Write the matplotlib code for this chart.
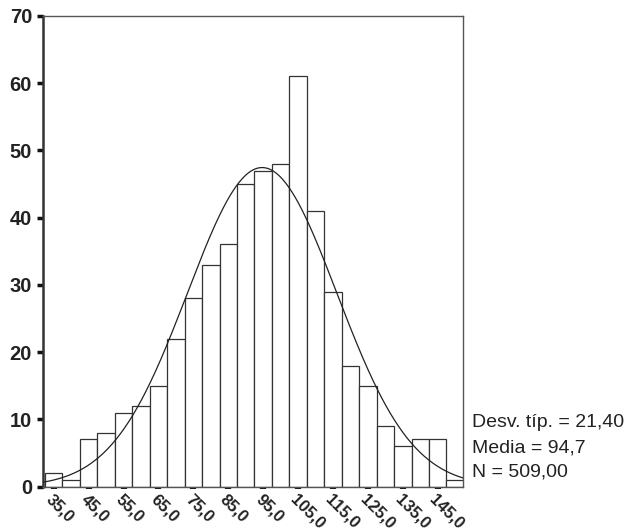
import numpy as np
import matplotlib.pyplot as plt

plt.rcParams['font.family'] = ['Liberation Sans', 'DejaVu Sans']

BIN_W = 5.0
centers = [35, 40, 45, 50, 55, 60, 65, 70, 75, 80, 85, 90,
           95, 100, 105, 110, 115, 120, 125, 130, 135, 140, 145, 150]
counts = [2, 1, 7, 8, 11, 12, 15, 22, 28, 33, 36, 45,
          47, 48, 61, 41, 29, 18, 15, 9, 6, 7, 7, 1]
tick_vals = [35, 45, 55, 65, 75, 85, 95, 105, 115, 125, 135, 145]
tick_labels = ['35,0', '45,0', '55,0', '65,0', '75,0', '85,0', '95,0',
               '105,0', '115,0', '125,0', '135,0', '145,0']
MEAN = 94.7
SD = 21.40
N = 509

fig = plt.figure(figsize=(6.26, 5.30), dpi=100)
ax = fig.add_axes([0.069, 0.082, 0.671, 0.888])

ax.bar(centers, counts, width=BIN_W, color='white', edgecolor='#333333',
       linewidth=0.9, zorder=2)

# normal curve fitted from the shown statistics
xs = np.linspace(32, 153, 400)
ys = N * BIN_W * np.exp(-0.5 * ((xs - MEAN) / SD) ** 2) / (SD * np.sqrt(2 * np.pi))
ax.plot(xs, ys, color='#222222', linewidth=0.9, zorder=3)

ax.set_xlim(32.0, 152.3)
ax.set_ylim(0, 70)
ax.set_yticks(range(0, 71, 10))
ax.set_xticks(tick_vals)
ax.set_xticklabels(tick_labels, rotation=-45, ha='left', va='top',
                   rotation_mode='anchor')
for lab in ax.get_xticklabels() + ax.get_yticklabels():
    lab.set_fontweight('bold')
    lab.set_color('#222222')
ax.tick_params(axis='x', labelsize=12)
ax.tick_params(axis='y', labelsize=14.5)
ax.tick_params(axis='both', color='#111111')
ax.tick_params(axis='y', length=4, width=2.5, pad=4)
ax.tick_params(axis='x', length=1.5, width=4.5, pad=2)

for side in ['top', 'right', 'bottom']:
    ax.spines[side].set_linewidth(1.0)
    ax.spines[side].set_color('#555555')
ax.spines['left'].set_linewidth(1.8)
ax.spines['left'].set_color('#333333')

fig.text(0.754, 0.202, 'Desv. típ. = 21,40', fontsize=14, va='center',
         color='#222222')
fig.text(0.754, 0.155, 'Media = 94,7', fontsize=14, va='center',
         color='#222222')
fig.text(0.754, 0.110, 'N = 509,00', fontsize=14, va='center',
         color='#222222')

fig.savefig('out.png', dpi=100)
